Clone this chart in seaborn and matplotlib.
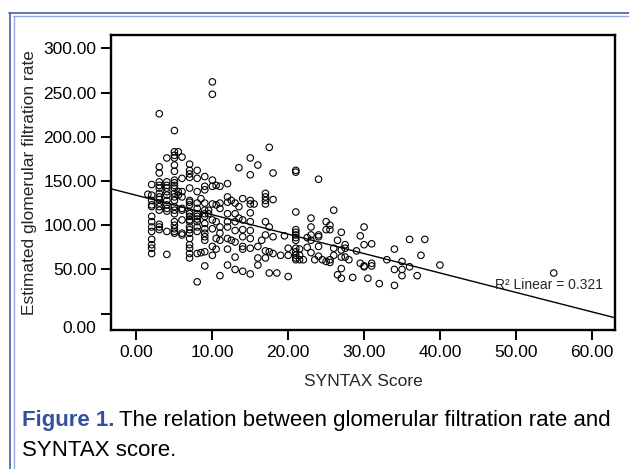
import numpy as np
import pandas as pd
import matplotlib
matplotlib.use("Agg")
import matplotlib.pyplot as plt
import matplotlib.transforms as mtransforms
from matplotlib.lines import Line2D
import seaborn as sns

# --- data: SYNTAX score levels and the eGFR values at each ---
score_levels = [1.5, 2, 3, 4, 5, 5.5, 6, 7, 8, 8.5, 9, 9.5, 10, 10.5, 11, 12, 12.5,
                13, 13.5, 14, 15, 15.5, 16, 16.5, 17, 17.5, 18, 18.5, 19, 19.5, 20,
                21, 21.5, 22, 22.5, 23, 23.5, 24, 24.5, 25, 25.5, 26, 26.5, 27, 27.5,
                28, 28.5, 29, 29.5, 30, 30.5, 31, 32, 33, 34, 35, 36, 37, 37.5, 38,
                40, 55]

egfr_groups = [
    [135],
    [146, 134, 128, 123, 121, 110, 104, 98, 93, 84, 78, 74, 68],
    [226, 166, 159, 149, 145, 142, 136, 132, 129, 125, 121, 117, 101, 98, 95],
    [176, 149, 145, 142, 138, 134, 128, 123, 119, 116, 93, 67],
    [207, 183, 179, 176, 168, 161, 151, 148, 145, 142, 136, 132, 128, 121, 117,
     113, 104, 100, 96, 93, 91],
    [183, 138, 134],
    [177, 153, 138, 132, 119, 117, 106, 91, 89],
    [169, 162, 158, 154, 142, 128, 126, 123, 115, 113, 110, 106, 104, 98, 95, 91,
     85, 78, 74, 68, 63],
    [162, 153, 138, 125, 119, 113, 110, 107, 104, 98, 93, 68, 36],
    [130, 69],
    [155, 144, 140, 125, 117, 113, 110, 102, 96, 91, 87, 83, 70, 54],
    [117, 113],
    [262, 248, 151, 144, 124, 106, 96, 76, 66],
    [145, 123, 104, 85, 73],
    [144, 125, 119, 98, 91, 83, 43],
    [147, 132, 126, 113, 104, 98, 85, 73, 55],
    [128, 83],
    [125, 113, 104, 94, 81, 64, 50],
    [165, 121, 108],
    [130, 106, 95, 87, 76, 73, 48],
    [176, 157, 128, 124, 114, 104, 94, 85, 74, 45],
    [124],
    [168, 76, 63, 55],
    [83],
    [136, 132, 128, 124, 104, 89, 71, 63],
    [188, 98, 70, 46],
    [159, 129, 87, 68],
    [46],
    [66],
    [88],
    [74, 66, 42],
    [162, 160, 115, 95, 92, 89, 86, 83, 74, 70, 66, 63, 61],
    [73, 66, 61],
    [61],
    [86, 75],
    [108, 98, 89, 83, 69],
    [61],
    [152, 89, 87, 76, 65],
    [61],
    [104, 95, 59],
    [100, 95, 61, 58],
    [117, 74, 66],
    [83, 44],
    [92, 72, 64, 51, 40],
    [78, 74, 64],
    [61],
    [41],
    [71],
    [88, 57],
    [98, 78, 54, 53],
    [40],
    [79, 57, 54],
    [34],
    [61],
    [73, 50, 32],
    [59, 50, 43],
    [84, 53],
    [43],
    [66],
    [84],
    [55],
    [46],
]

x_ticks = [0, 10, 20, 30, 40, 50, 60]
y_ticks = [0, 50, 100, 150, 200, 250, 300]

df = pd.DataFrame({
    "syntax": np.repeat(score_levels, [len(g) for g in egfr_groups]),
    "egfr": np.concatenate(egfr_groups),
})

sns.set_style("ticks")
plt.rcParams["font.family"] = ["Liberation Sans", "DejaVu Sans"]

fig = plt.figure(figsize=(6.29, 4.69), dpi=100)
ax = fig.add_axes([0.176, 0.2964, 0.802, 0.629])
ax.set_xlim(-3.4, 63.1)
ax.set_ylim(-18.4, 315)

sns.regplot(data=df, x="syntax", y="egfr", ax=ax, ci=None, truncate=False,
            color="black", marker="o",
            scatter_kws=dict(facecolors="none", edgecolors="black", s=22,
                             linewidths=0.8, alpha=1),
            line_kws=dict(lw=1.0))
ax.set_xlim(-3.4, 63.1)
ax.set_ylim(-18.4, 315)

ax.set_xticks(x_ticks)
ax.set_xticklabels([f"{v:.2f}" for v in x_ticks])
ax.set_yticks(y_ticks)
ax.set_yticklabels([f"{v:.2f}" for v in y_ticks])
ax.tick_params(direction="out", length=7, width=1.4, labelsize=12.5,
               color="black", labelcolor="black")
ax.tick_params(axis="y", pad=3.3)
ax.tick_params(axis="x", pad=3.6)
for s in ax.spines.values():
    s.set_visible(True)
    s.set_linewidth(1.7)
    s.set_color("black")

# SPSS drops the "0.00" label below its tick
for lbl in ax.get_yticklabels():
    if lbl.get_text() == "0.00":
        lbl.set_transform(lbl.get_transform() +
                          mtransforms.ScaledTranslation(0, -0.13, fig.dpi_scale_trans))

ax.set_xlabel("SYNTAX Score", fontsize=12.5)
ax.set_ylabel("Estimated glomerular filtration rate", fontsize=12.5)
ax.xaxis.set_label_coords(0.5, -0.173)
ax.xaxis.label.set_va("center")
ax.yaxis.set_label_coords(-0.160, 0.5)
ax.yaxis.label.set_va("center")

ax.text(61.5, 32.5, "R\u00b2 Linear = 0.321", ha="right", va="center", fontsize=10)

# caption
cap_y = 1 - 420 / 469
t1 = fig.text(22 / 629, cap_y, "Figure 1.", fontsize=16, fontweight="bold",
              color="#3451a0", va="center")
fig.canvas.draw()
bb = t1.get_window_extent(renderer=fig.canvas.get_renderer())
fig.text(bb.x1 / fig.bbox.width + 5 / 629, cap_y,
         "The relation between glomerular filtration rate and",
         fontsize=16, va="center", color="black")
fig.text(22 / 629, 1 - 450 / 469, "SYNTAX score.", fontsize=16, va="center",
         color="black")

# page border lines
fig.add_artist(Line2D([9 / 629, 1], [1 - 13.5 / 469] * 2, transform=fig.transFigure,
                      color="#4560a8", lw=1.2))
fig.add_artist(Line2D([13 / 629, 1], [1 - 16 / 469] * 2, transform=fig.transFigure,
                      color="#9aaad6", lw=1.0))
fig.add_artist(Line2D([9.5 / 629] * 2, [0, 1 - 13.5 / 469], transform=fig.transFigure,
                      color="#4560a8", lw=1.2))
fig.add_artist(Line2D([13.5 / 629] * 2, [0, 1 - 16 / 469], transform=fig.transFigure,
                      color="#9aaad6", lw=1.0))

fig.savefig("out.png", dpi=100)
